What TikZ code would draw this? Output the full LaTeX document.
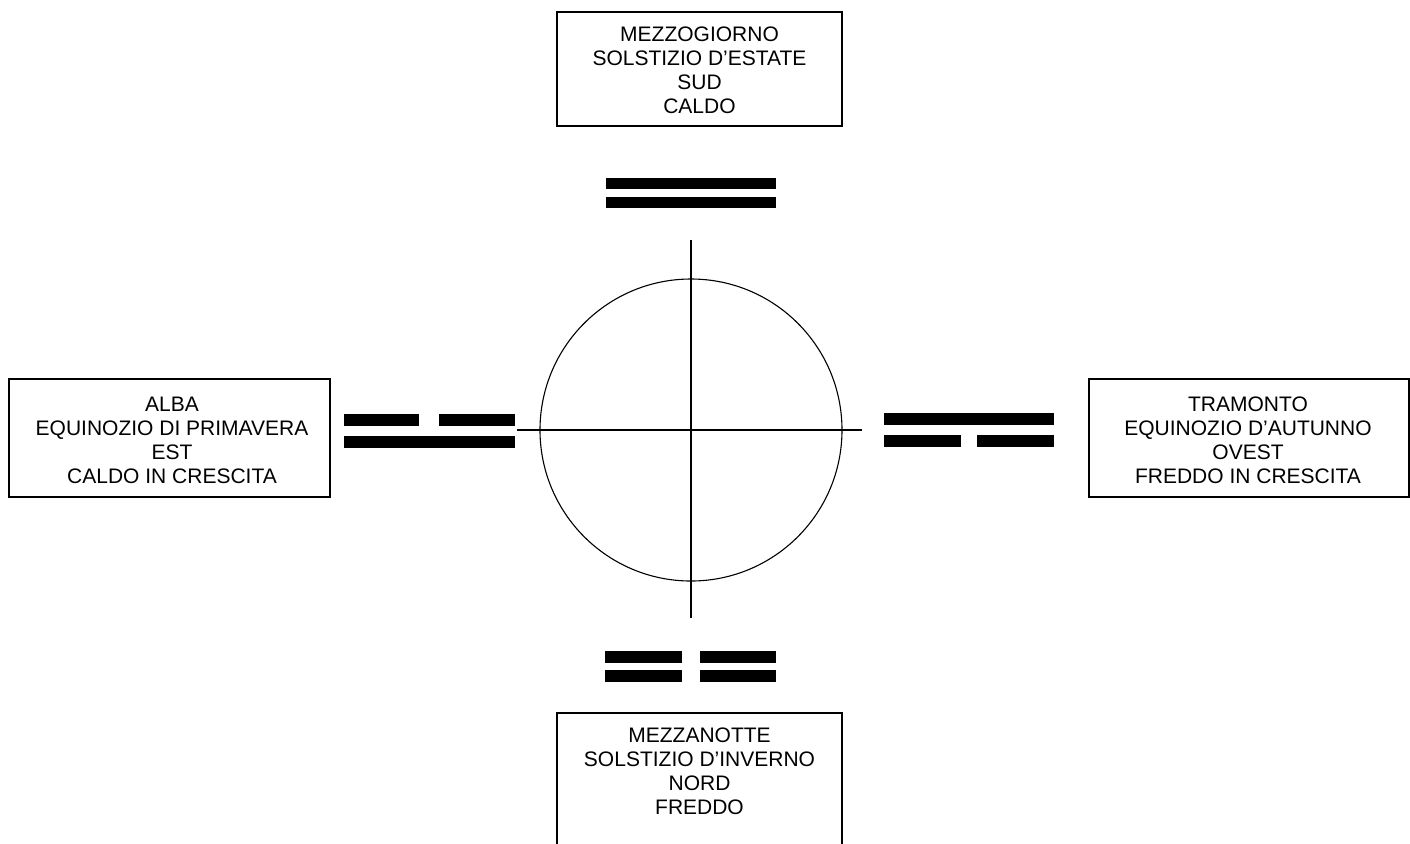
\documentclass[tikz,border=0pt]{standalone}
\usepackage{fontspec}
\setmainfont{Liberation Sans}
\begin{document}
\begin{tikzpicture}[x=0.5pt,y=-0.5pt,
  box/.style={draw=black,line width=0.8pt},
  lbl/.style={align=center,inner sep=0pt,font=\fontsize{10.5}{12}\selectfont},
  bar/.style={fill=black,draw=none},
  thin/.style={draw=black,line width=0.55pt}]
\useasboundingbox (0,0) rectangle (1410,843);
% boxes
\draw[box] (557,12) rectangle (842,126);
\draw[box] (9,379) rectangle (330,497);
\draw[box] (1089,379) rectangle (1409,497);
\draw[box] (557,860) -- (557,713) -- (842,713) -- (842,860);
\node[lbl] (sud) at (699.5,70) {MEZZOGIORNO\\SOLSTIZIO D’ESTATE\\SUD\\CALDO};
\node[lbl] (est) at (172,440) {ALBA\\EQUINOZIO DI PRIMAVERA\\EST\\CALDO IN CRESCITA};
\node[lbl] (ovest) at (1248,440) {TRAMONTO\\EQUINOZIO D’AUTUNNO\\OVEST\\FREDDO IN CRESCITA};
\node[lbl] (nord) at (699.5,771) {MEZZANOTTE\\SOLSTIZIO D’INVERNO\\NORD\\FREDDO};
% circle and cross
\coordinate (c) at (691,430);
\draw[thin] (c) circle [radius=151];
\coordinate (vt) at (691,240); \coordinate (vb) at (691,618);
\coordinate (hl) at (517,430); \coordinate (hr) at (862,430);
\draw[thin] (vt) -- (vb);
\draw[thin] (hl) -- (hr);
% top bars
\fill[bar] (606,178) rectangle (776,189);
\fill[bar] (606,197) rectangle (776,208);
% left bars
\fill[bar] (344,414) rectangle (419,426);
\fill[bar] (439,414) rectangle (515,426);
\fill[bar] (344,436) rectangle (515,448);
% right bars
\fill[bar] (884,413) rectangle (1054,425);
\fill[bar] (884,435) rectangle (961,447);
\fill[bar] (977,435) rectangle (1054,447);
% bottom bars
\fill[bar] (605,651) rectangle (682,663);
\fill[bar] (700,651) rectangle (776,663);
\fill[bar] (605,670) rectangle (682,682);
\fill[bar] (700,670) rectangle (776,682);
\end{tikzpicture}
\end{document}
